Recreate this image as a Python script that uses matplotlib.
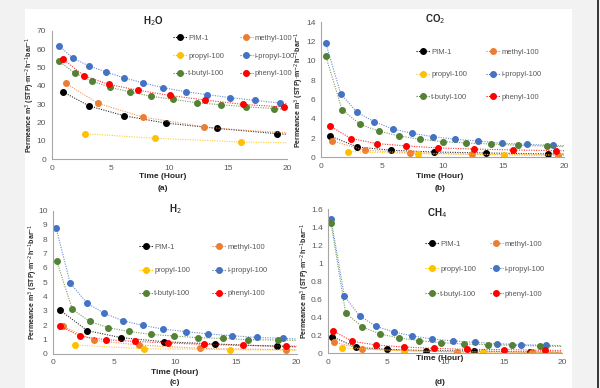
import numpy as np
import matplotlib
matplotlib.use("Agg")
import matplotlib.pyplot as plt
from matplotlib.patches import Rectangle

plt.rcParams['font.family'] = ['Liberation Sans', 'DejaVu Sans']

# series names and colours
names = ['PIM-1', 'methyl-100', 'propyl-100', 'i-propyl-100', 't-butyl-100', 'phenyl-100']
colors = ['#000000', '#ED7D31', '#FFC000', '#4472C4', '#548235', '#FF0000']

# (a) H2O
h2o_x = {
    'PIM-1': [0.99, 3.20, 6.14, 9.67, 14.03, 19.15],
    'methyl-100': [1.19, 3.93, 7.72, 12.96],
    'propyl-100': [2.83, 8.77, 16.04],
    'i-propyl-100': [0.62, 1.81, 3.14, 4.58, 6.11, 7.75, 9.48, 11.37, 13.21, 15.13, 17.23, 19.41],
    't-butyl-100': [0.59, 1.95, 3.42, 4.98, 6.68, 8.46, 10.33, 12.31, 14.34, 16.52, 18.90],
    'phenyl-100': [0.93, 2.72, 4.84, 7.30, 10.01, 12.98, 16.21, 19.75],
}
h2o_y = {
    'PIM-1': [36.5, 28.9, 23.6, 19.6, 16.7, 13.8],
    'methyl-100': [41.3, 30.4, 22.9, 17.5],
    'propyl-100': [13.8, 11.3, 9.3],
    'i-propyl-100': [61.8, 54.9, 50.9, 47.5, 44.4, 41.5, 38.9, 36.7, 35.1, 33.5, 32.0, 30.5],
    't-butyl-100': [53.5, 46.9, 42.5, 39.1, 36.5, 34.2, 32.5, 30.7, 29.6, 28.5, 27.5],
    'phenyl-100': [54.7, 45.5, 40.7, 37.6, 34.7, 32.2, 29.8, 28.4],
}

# (b) CO2
co2_x = {
    'PIM-1': [0.74, 2.99, 5.78, 9.26, 13.53, 18.68],
    'methyl-100': [0.93, 3.62, 7.32, 12.44, 19.48],
    'propyl-100': [2.19, 7.95, 15.04],
    'i-propyl-100': [0.38, 1.62, 2.93, 4.36, 5.89, 7.48, 9.21, 11.01, 12.93, 14.88, 16.90, 19.04],
    't-butyl-100': [0.38, 1.73, 3.21, 4.77, 6.41, 8.16, 10.0, 11.92, 13.95, 16.19, 18.58],
    'phenyl-100': [0.74, 2.47, 4.63, 6.99, 9.64, 12.58, 15.81, 19.32],
}
co2_y = {
    'PIM-1': [2.21, 1.07, 0.73, 0.55, 0.45, 0.35],
    'methyl-100': [1.69, 0.73, 0.48, 0.31, 0.21],
    'propyl-100': [0.59, 0.38, 0.28],
    'i-propyl-100': [11.89, 6.60, 4.70, 3.70, 2.94, 2.49, 2.14, 1.87, 1.69, 1.45, 1.35, 1.24],
    't-butyl-100': [10.55, 4.94, 3.42, 2.70, 2.21, 1.87, 1.62, 1.49, 1.38, 1.25, 1.15],
    'phenyl-100': [3.25, 1.94, 1.42, 1.18, 0.97, 0.86, 0.76, 0.69],
}

# (c) H2
h2_x = {
    'PIM-1': [0.60, 2.82, 5.61, 9.08, 13.32, 18.41],
    'methyl-100': [0.79, 3.39, 7.03, 12.09, 19.10],
    'propyl-100': [1.78, 7.47, 14.53],
    'i-propyl-100': [0.25, 1.42, 2.79, 4.21, 5.72, 7.36, 9.06, 10.92, 12.75, 14.66, 16.72, 18.88],
    't-butyl-100': [0.30, 1.59, 3.01, 4.54, 6.21, 8.02, 9.90, 11.90, 13.93, 15.98, 18.50],
    'phenyl-100': [0.55, 2.24, 4.35, 6.76, 9.47, 12.39, 15.59, 19.12],
}
h2_y = {
    'PIM-1': [3.03, 1.61, 1.12, 0.84, 0.68, 0.51],
    'methyl-100': [1.91, 0.93, 0.61, 0.37, 0.28],
    'propyl-100': [0.61, 0.35, 0.28],
    'i-propyl-100': [8.79, 4.92, 3.54, 2.82, 2.31, 1.98, 1.72, 1.54, 1.38, 1.26, 1.14, 1.07],
    't-butyl-100': [6.50, 3.10, 2.26, 1.82, 1.56, 1.35, 1.24, 1.12, 1.07, 0.98, 0.96],
    'phenyl-100': [1.96, 1.21, 0.98, 0.86, 0.75, 0.65, 0.58, 0.54],
}

# (d) CH4
ch4_x = {
    'PIM-1': [0.34, 2.36, 5.04, 8.38, 12.42, 17.24],
    'methyl-100': [0.51, 2.91, 6.44, 10.97, 17.44],
    'propyl-100': [1.20, 6.44, 13.19],
    'i-propyl-100': [0.23, 1.37, 2.68, 4.10, 5.58, 7.18, 8.89, 10.68, 12.54, 14.42, 16.44, 18.60],
    't-butyl-100': [0.23, 1.48, 2.91, 4.42, 6.04, 7.78, 9.63, 11.57, 13.65, 15.73, 18.09],
    'phenyl-100': [0.40, 2.05, 4.10, 6.44, 9.00, 11.85, 15.04, 18.52],
}
ch4_y = {
    'PIM-1': [0.185, 0.067, 0.044, 0.030, 0.026, 0.015],
    'methyl-100': [0.122, 0.048, 0.030, 0.015, 0.011],
    'propyl-100': [0.059, 0.026, 0.015],
    'i-propyl-100': [1.493, 0.636, 0.414, 0.299, 0.237, 0.192, 0.159, 0.137, 0.122, 0.107, 0.096, 0.089],
    't-butyl-100': [1.449, 0.447, 0.292, 0.214, 0.170, 0.140, 0.118, 0.103, 0.096, 0.089, 0.081],
    'phenyl-100': [0.248, 0.133, 0.092, 0.070, 0.055, 0.044, 0.041, 0.033],
}

ylabel = 'Permeance m$^3$ (STP)$\\cdot$m$^{-2}$h$^{-1}$bar$^{-1}$'
grey = '#595959'
dark = '#262626'
dots = (0, (1, 1.2))

W, H = 600, 388
fig = plt.figure(figsize=(6, 3.88), dpi=100, facecolor='#F2F2F2')
fig.patches.append(Rectangle((25 / W, 0), 547 / W, 1 - 9 / H, transform=fig.transFigure,
                             facecolor='white', edgecolor='none', zorder=-10))
fig.patches.append(Rectangle((597 / W, 0), 2 / W, 1, transform=fig.transFigure,
                             facecolor='#3A3A3A', edgecolor='none', zorder=-10))

# title, x, y, axes box in px (left, right, top=ymax, bottom=0), ymax, yticks,
# title pos, xlabel pos, letter, letter y, ylabel x, legend (x, y, labelspacing, columnspacing)
panels = [
    ('H$_2$O', h2o_x, h2o_y, (51.7, 287.3, 30.7, 159.0), 70, np.arange(0, 71, 10),
     (153, 21), (163, 177), '(a)', 188, 30, (169, 31, 1.35, 2.0)),
    ('CO$_2$', co2_x, co2_y, (321.0, 564.3, 22.3, 157.3), 14, np.arange(0, 15, 2),
     (435, 19), (440, 177), '(b)', 188, 299, (412, 45, 1.95, 2.5)),
    ('H$_2$', h2_x, h2_y, (53.0, 296.7, 210.7, 353.7), 10, np.arange(0, 11, 1),
     (175, 209), (175, 372), '(c)', 382, 33, (135, 240, 2.05, 2.9)),
    ('CH$_4$', ch4_x, ch4_y, (328.3, 562.3, 209.0, 353.3), 1.6, np.round(np.arange(0, 1.61, 0.2), 1),
     (437, 213), (440, 359), '(d)', 382, 305, (421, 237, 2.3, 1.75)),
]

order = ['PIM-1', 'propyl-100', 't-butyl-100', 'methyl-100', 'i-propyl-100', 'phenyl-100']

for title, xs, ys, (l, r, t, b), ymax, yt, tpos, xlpos, letter, lety, ylx, (lgx, lgy, lsp, csp) in panels:
    ax = fig.add_axes([l / W, 1 - b / H, (r - l) / W, (b - t) / H])
    ax.set_facecolor('none')
    handles = {}
    for name, c in zip(names, colors):
        x = np.array(xs[name])
        y = np.array(ys[name])
        # dotted line through the points, carried on to x=20 with a power law
        # fitted on the last points
        k = min(3, len(x))
        bcoef, _ = np.polyfit(np.log(x[-k:]), np.log(y[-k:]), 1)
        xe = np.linspace(x[-1], 20, 30)
        lx = np.concatenate([x, xe[1:]])
        ly = np.concatenate([y, y[-1] * (xe[1:] / x[-1]) ** bcoef])
        ax.plot(lx, ly, ls=dots, lw=0.8, color=c, alpha=0.8)
        ax.plot(x, y, 'o', ms=4, color=c, mec=c)
        h, = ax.plot([], [], ls=dots, lw=0.8, color=c, marker='o', ms=4)
        handles[name] = h
    ax.set_xlim(0, 20)
    ax.set_ylim(0, ymax)
    ax.set_xticks([0, 5, 10, 15, 20])
    ax.set_yticks(yt)
    ax.set_yticklabels([('%g' % v) for v in yt])
    for s in ['top', 'right']:
        ax.spines[s].set_visible(False)
    for s in ['left', 'bottom']:
        ax.spines[s].set_color('#A6A6A6')
        ax.spines[s].set_linewidth(0.8)
    ax.tick_params(length=0, labelsize=6, colors=grey, pad=4)
    ax.legend([handles[n] for n in order], order, ncol=2, frameon=False, fontsize=5.5,
              loc='upper left', bbox_to_anchor=(lgx / W, 1 - lgy / H), bbox_transform=fig.transFigure,
              labelspacing=lsp, handlelength=1.8, handletextpad=0.2, columnspacing=csp,
              borderpad=0, labelcolor=grey)
    fig.text(tpos[0] / W, 1 - tpos[1] / H, title, ha='center', va='center',
             fontsize=7, fontweight='bold', color=dark)
    fig.text(xlpos[0] / W, 1 - xlpos[1] / H, 'Time (Hour)', ha='center', va='center',
             fontsize=6, fontweight='bold', color=dark)
    fig.text(xlpos[0] / W, 1 - lety / H, letter, ha='center', va='center',
             fontsize=6, fontweight='bold', color=dark)
    fig.text(ylx / W, 1 - (t + b) / 2 / H, ylabel, rotation=90, ha='center', va='center',
             fontsize=5, fontweight='bold', color=dark)

fig.savefig('out.png', dpi=100, facecolor=fig.get_facecolor())
